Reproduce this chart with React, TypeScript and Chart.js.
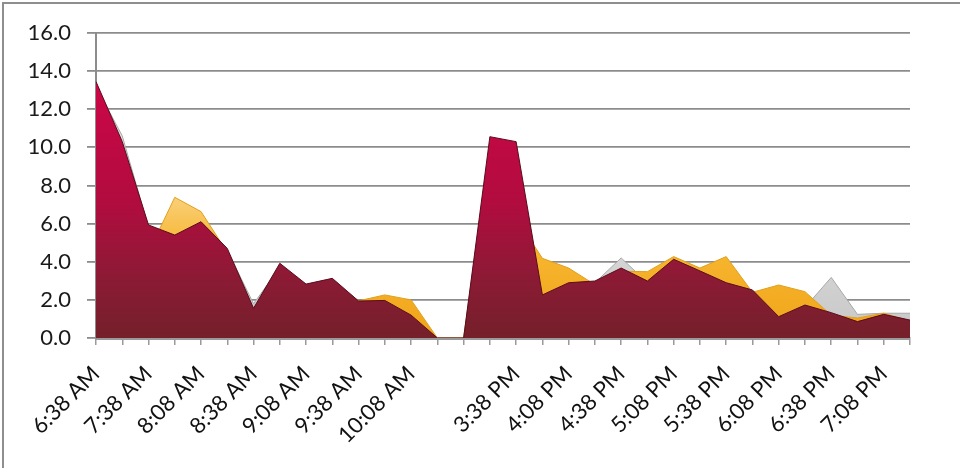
import React, { useEffect, useRef } from 'react';
import { Chart, registerables } from 'chart.js';

Chart.register(...registerables);

const categories = [
  '6:38 AM', '', '7:38 AM', '', '8:08 AM', '', '8:38 AM', '',
  '9:08 AM', '', '9:38 AM', '', '10:08 AM', '', '', '',
  '3:38 PM', '', '4:08 PM', '', '4:38 PM', '', '5:08 PM', '',
  '5:38 PM', '', '6:08 PM', '', '6:38 PM', '', '7:08 PM', '',
];

const redSeries = [
  13.45, 10.3, 5.93, 5.4, 6.1, 4.7, 1.56, 3.92, 2.83, 3.13, 1.94, 1.97, 1.2, 0, 0, 10.56,
  10.3, 2.26, 2.9, 2.99, 3.67, 2.99, 4.13, 3.52, 2.9, 2.52, 1.12, 1.73, 1.33, 0.86, 1.24, 0.94,
];

const orangeSeries = [
  13.0, 9.0, 4.5, 7.38, 6.63, 4.5, 1.5, 3.8, 2.7, 3.0, 1.95, 2.26, 2.0, 0, 0, 9.5,
  6.3, 4.18, 3.67, 2.8, 3.5, 3.48, 4.27, 3.67, 4.27, 2.4, 2.78, 2.43, 1.2, 1.05, 1.3, 0.9,
];

const graySeries = [
  13.2, 10.6, 5.8, 5.2, 5.9, 4.6, 1.8, 3.7, 2.7, 3.0, 1.9, 1.9, 1.1, 0, 0, 10.2,
  10.0, 2.2, 2.8, 2.9, 4.2, 2.9, 4.0, 3.4, 2.8, 2.4, 1.0, 1.6, 3.18, 1.24, 1.3, 1.3,
];

const yMin = 0;
const yMax = 16;
const yStep = 2;

function makeGradient(chart: any, stops: [number, string][], fallback: string) {
  const area = chart.chartArea;
  if (!area) return fallback;
  const g = chart.ctx.createLinearGradient(0, area.top, 0, area.bottom);
  stops.forEach(([p, c]) => g.addColorStop(p, c));
  return g;
}

export default function App() {
  const canvasRef = useRef<HTMLCanvasElement | null>(null);

  useEffect(() => {
    const canvas = canvasRef.current;
    if (!canvas) return;
    const font = { family: 'Lato', size: 22 };
    const chart = new Chart(canvas, {
      type: 'line',
      data: {
        labels: categories,
        datasets: [
          {
            label: 'Red',
            data: redSeries,
            fill: 'origin',
            tension: 0,
            pointRadius: 0,
            borderWidth: 1,
            borderColor: '#5a0c1c',
            backgroundColor: (ctx: any) =>
              makeGradient(ctx.chart, [
                [0, '#d6044c'],
                [0.55, '#b20c3f'],
                [0.8, '#8c1a35'],
                [1, '#74202a'],
              ], '#8e1a36'),
            order: 1,
          },
          {
            label: 'Orange',
            data: orangeSeries,
            fill: 'origin',
            tension: 0,
            pointRadius: 0,
            borderWidth: 1,
            borderColor: '#e0a020',
            backgroundColor: (ctx: any) =>
              makeGradient(ctx.chart, [
                [0, '#fde6a8'],
                [0.5, '#fad68a'],
                [0.7, '#f7b630'],
                [1, '#f0a418'],
              ], '#f7b630'),
            order: 2,
          },
          {
            label: 'Gray',
            data: graySeries,
            fill: 'origin',
            tension: 0,
            pointRadius: 0,
            borderWidth: 1,
            borderColor: '#a8a8a8',
            backgroundColor: (ctx: any) =>
              makeGradient(ctx.chart, [
                [0, '#ececec'],
                [0.7, '#d6d6d6'],
                [1, '#c8c8c8'],
              ], '#d6d6d6'),
            order: 3,
          },
        ],
      },
      options: {
        animation: false,
        responsive: false,
        maintainAspectRatio: false,
        layout: { padding: { top: 33, right: 50, bottom: 0, left: 0 } },
        plugins: {
          legend: { display: false },
          tooltip: { enabled: false },
        },
        scales: {
          x: {
            type: 'category',
            offset: false,
            afterFit: (scale: any) => {
              scale.height = 130;
            },
            grid: {
              drawOnChartArea: false,
              drawTicks: true,
              tickLength: 7,
              color: '#9a9a9a',
              lineWidth: 1.5,
            },
            border: { display: true, color: '#9a9a9a', width: 3 },
            ticks: {
              autoSkip: false,
              maxRotation: 45,
              minRotation: 45,
              padding: 16,
              color: '#111',
              font,
            },
          },
          y: {
            min: yMin,
            max: yMax,
            afterFit: (scale: any) => {
              scale.width = 96;
            },
            grid: {
              color: '#8c8c8c',
              lineWidth: 1.8,
              tickLength: 9,
              drawTicks: true,
            },
            border: { display: true, color: '#8c8c8c', width: 2 },
            ticks: {
              stepSize: yStep,
              padding: 16,
              color: '#1a1a1a',
              font,
              callback: (v: any) => Number(v).toFixed(1),
            },
          },
        },
      },
    });
    return () => chart.destroy();
  }, []);

  return (
    <div
      style={{
        position: 'fixed',
        left: 0,
        top: 0,
        width: 960,
        height: 468,
        overflow: 'hidden',
        background: '#fff',
      }}
    >
      <div
        style={{
          position: 'absolute',
          left: 2,
          top: 2,
          width: 1200,
          height: 1200,
          border: '2px solid #8e8e8e',
        }}
      />
      <canvas
        ref={canvasRef}
        width={960}
        height={468}
        style={{ position: 'absolute', left: 0, top: 0, width: 960, height: 468 }}
      />
    </div>
  );
}
